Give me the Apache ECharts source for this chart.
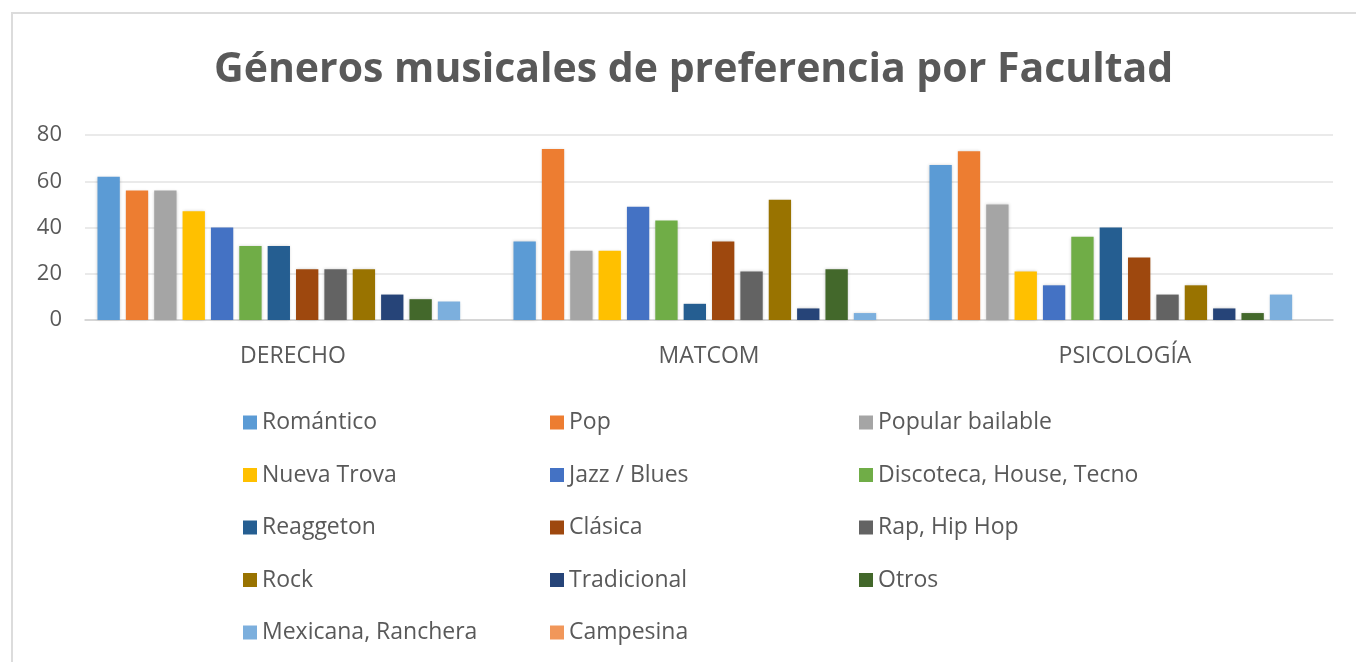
<!DOCTYPE html>
<html>
<head>
<meta charset="utf-8">
<script src="https://cdn.jsdelivr.net/npm/echarts@6/dist/echarts.min.js"></script>
<style>
html,body{margin:0;padding:0;background:#fff;}
#wrap{position:relative;width:1356px;height:662px;overflow:hidden;}
#chart{position:absolute;left:0;top:0;width:1356px;height:662px;}
#frame{position:absolute;left:11px;top:12px;width:1400px;height:700px;border-top:2px solid #dcdcdc;border-left:2px solid #dcdcdc;pointer-events:none;}
</style>
</head>
<body>
<div id="wrap"><div id="chart"></div><div id="frame"></div></div>
<script>
const categories = ['DERECHO', 'MATCOM', 'PSICOLOGÍA'];
const seriesNames = ['Romántico','Pop','Popular bailable','Nueva Trova','Jazz / Blues','Discoteca, House, Tecno','Reaggeton','Clásica','Rap, Hip Hop','Rock','Tradicional','Otros','Mexicana, Ranchera','Campesina'];
const romantico   = [62, 34, 67];
const pop         = [56, 74, 73];
const popular     = [56, 30, 50];
const nuevaTrova  = [47, 30, 21];
const jazz        = [40, 49, 15];
const discoteca   = [32, 43, 36];
const reaggeton   = [32, 7, 40];
const clasica     = [22, 34, 27];
const rap         = [22, 21, 11];
const rock        = [22, 52, 15];
const tradicional = [11, 5, 5];
const otros       = [9, 22, 3];
const mexicana    = [8, 3, 11];
const campesina   = [0, 0, 0];
const yTicks = [0, 20, 40, 60, 80];

const seriesValues = [romantico, pop, popular, nuevaTrova, jazz, discoteca, reaggeton, clasica, rap, rock, tradicional, otros, mexicana, campesina];
const colors = ['#5B9BD5','#ED7D31','#A5A5A5','#FFC000','#4472C4','#70AD47','#255E91','#9E480E','#636363','#997300','#264478','#43682B','#7CAFDD','#F1975A'];

const font = "'Open Sans', 'Noto Sans', sans-serif";
const legendCols = [
  [0, 3, 6, 9, 12],
  [1, 4, 7, 10, 13],
  [2, 5, 8, 11]
];
const legendLefts = [238, 545, 854];

const chart = echarts.init(document.getElementById('chart'));
chart.setOption({
  animation: false,
  color: colors,
  title: {
    text: 'Géneros musicales de preferencia por Facultad',
    left: 209,
    top: 45,
    textStyle: { fontFamily: font, fontSize: 41, fontWeight: 'bold', color: '#595959' }
  },
  grid: { left: 85, right: 23, top: 135, bottom: 342 },
  xAxis: {
    type: 'category',
    data: categories,
    axisLine: { lineStyle: { color: '#d0d0d0', width: 1.5 } },
    axisTick: { show: false },
    axisLabel: { fontFamily: font, fontSize: 23, color: '#595959', margin: 25 }
  },
  yAxis: {
    type: 'value',
    min: yTicks[0],
    max: yTicks[yTicks.length - 1],
    interval: 20,
    axisLine: { show: false },
    axisTick: { show: false },
    splitLine: { lineStyle: { color: '#e3e3e3', width: 1.5 } },
    axisLabel: { fontFamily: font, fontSize: 22, color: '#595959', margin: 23 }
  },
  legend: legendCols.map((idx, c) => ({
    orient: 'vertical',
    left: legendLefts[c],
    top: 405,
    itemWidth: 14,
    itemHeight: 14,
    itemGap: 27.5,
    icon: 'rect',
    selectedMode: false,
    data: idx.map(i => seriesNames[i]),
    textStyle: { fontFamily: font, fontSize: 23, color: '#595959', lineHeight: 25 }
  })),
  series: seriesNames.map((name, i) => ({
    name: name,
    type: 'bar',
    data: seriesValues[i],
    barGap: '27%',
    barCategoryGap: '6%',
    itemStyle: { color: colors[i], shadowBlur: 3, shadowColor: 'rgba(0,0,0,0.18)' }
  }))
});
</script>
</body>
</html>
